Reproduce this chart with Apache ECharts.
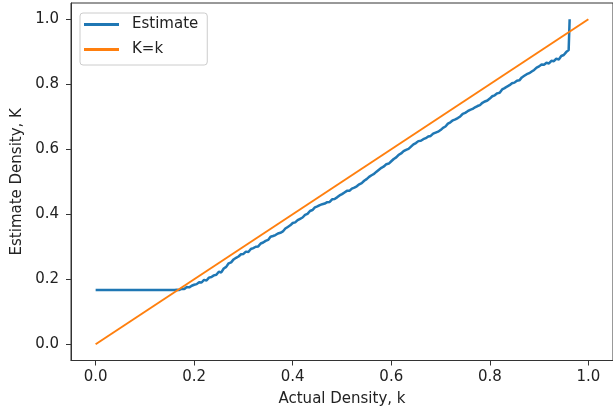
<!DOCTYPE html>
<html>
<head>
<meta charset="utf-8">
<script src="https://cdn.jsdelivr.net/npm/echarts@6/dist/echarts.min.js"></script>
<style>html,body{margin:0;padding:0;background:#fff;}#c{width:613px;height:415px;}</style>
</head>
<body>
<div id="c"></div>
<script>
const tickValues = [0.0, 0.2, 0.4, 0.6, 0.8, 1.0];
const estX = [0.000,0.160,0.165,0.170,0.175,0.180,0.185,0.190,0.195,0.200,0.205,0.210,0.215,0.220,0.225,0.230,0.235,0.240,0.245,0.250,0.255,0.260,0.265,0.270,0.275,0.280,0.285,0.290,0.295,0.300,0.305,0.310,0.315,0.320,0.325,0.330,0.335,0.340,0.345,0.350,0.355,0.360,0.365,0.370,0.375,0.380,0.385,0.390,0.395,0.400,0.405,0.410,0.415,0.420,0.425,0.430,0.435,0.440,0.445,0.450,0.455,0.460,0.465,0.470,0.475,0.480,0.485,0.490,0.495,0.500,0.505,0.510,0.515,0.520,0.525,0.530,0.535,0.540,0.545,0.550,0.555,0.560,0.565,0.570,0.575,0.580,0.585,0.590,0.595,0.600,0.605,0.610,0.615,0.620,0.625,0.630,0.635,0.640,0.645,0.650,0.655,0.660,0.665,0.670,0.675,0.680,0.685,0.690,0.695,0.700,0.705,0.710,0.715,0.720,0.725,0.730,0.735,0.740,0.745,0.750,0.755,0.760,0.765,0.770,0.775,0.780,0.785,0.790,0.795,0.800,0.805,0.810,0.815,0.820,0.825,0.830,0.835,0.840,0.845,0.850,0.855,0.860,0.865,0.870,0.875,0.880,0.885,0.890,0.895,0.900,0.905,0.910,0.915,0.920,0.925,0.930,0.935,0.940,0.945,0.950,0.955,0.958,0.960,0.962];
const estY = [0.167,0.167,0.168,0.167,0.171,0.170,0.176,0.175,0.180,0.183,0.185,0.191,0.190,0.198,0.196,0.205,0.207,0.212,0.214,0.223,0.221,0.233,0.238,0.249,0.252,0.261,0.266,0.270,0.277,0.278,0.285,0.284,0.293,0.296,0.300,0.301,0.310,0.313,0.318,0.321,0.331,0.333,0.336,0.341,0.343,0.347,0.356,0.361,0.366,0.373,0.375,0.382,0.386,0.390,0.398,0.401,0.410,0.413,0.421,0.424,0.428,0.431,0.433,0.437,0.438,0.446,0.447,0.452,0.458,0.462,0.467,0.472,0.472,0.479,0.482,0.486,0.492,0.496,0.503,0.508,0.515,0.520,0.524,0.531,0.537,0.543,0.547,0.554,0.556,0.563,0.570,0.575,0.583,0.587,0.594,0.598,0.601,0.608,0.615,0.619,0.625,0.626,0.631,0.634,0.639,0.641,0.648,0.651,0.654,0.659,0.666,0.670,0.679,0.683,0.689,0.692,0.696,0.701,0.709,0.712,0.717,0.721,0.724,0.729,0.733,0.736,0.743,0.747,0.750,0.756,0.763,0.766,0.772,0.774,0.784,0.788,0.793,0.797,0.803,0.805,0.811,0.812,0.821,0.826,0.831,0.834,0.839,0.844,0.851,0.855,0.861,0.860,0.866,0.864,0.872,0.871,0.879,0.876,0.887,0.890,0.899,0.894,0.905,1.000];
const refX = [0.0, 1.0];
const refY = [0.0, 1.0];

const chart = echarts.init(document.getElementById('c'), null, {renderer: 'canvas'});
const fontFam = 'DejaVu Sans';
function axisCommon(name) {
  return {
    type: 'value', min: -0.05, max: 1.05,
    name: name, nameLocation: 'middle',
    nameTextStyle: {fontFamily: fontFam, fontSize: 15, color: '#222'},
    axisLine: {show: true, onZero: false, lineStyle: {color: '#333', width: 1}},
    axisTick: {show: true, inside: false, length: 5, lineStyle: {color: '#333'}, customValues: tickValues},
    axisLabel: {fontFamily: fontFam, fontSize: 15, color: '#222', customValues: tickValues,
      formatter: v => v.toFixed(1)},
    splitLine: {show: false}
  };
}
const xAx = axisCommon('Actual Density, k');
xAx.nameGap = 31; xAx.axisLabel.margin = 9;
const yAx = axisCommon('Estimate Density, K');
yAx.nameGap = 46; yAx.axisLabel.margin = 12;

chart.setOption({
  animation: false,
  backgroundColor: '#fff',
  grid: {left: 71, top: 3, width: 550, height: 357.5, show: true, borderColor: '#333', borderWidth: 1, backgroundColor: 'transparent'},
  xAxis: xAx,
  yAxis: yAx,
  legend: {
    orient: 'vertical', left: 80, top: 13,
    icon: 'rect', itemWidth: 35, itemHeight: 3, itemGap: 10,
    padding: [4, 9, 8, 4],
    borderColor: '#ccc', borderWidth: 1, borderRadius: 3,
    backgroundColor: 'rgba(255,255,255,0.8)',
    textStyle: {fontFamily: fontFam, fontSize: 15, color: '#222', lineHeight: 15, padding: [0, 0, 0, 8]},
    data: ['Estimate', 'K=k']
  },
  series: [
    {name: 'Estimate', type: 'line', data: estX.map((x, i) => [x, estY[i]]), showSymbol: false, symbol: 'none',
     lineStyle: {color: '#1f77b4', width: 2.5}, itemStyle: {color: '#1f77b4'}, z: 2},
    {name: 'K=k', type: 'line', data: refX.map((x, i) => [x, refY[i]]), showSymbol: false, symbol: 'none',
     lineStyle: {color: '#ff7f0e', width: 2}, itemStyle: {color: '#ff7f0e'}, z: 3}
  ]
});
</script>
</body>
</html>
